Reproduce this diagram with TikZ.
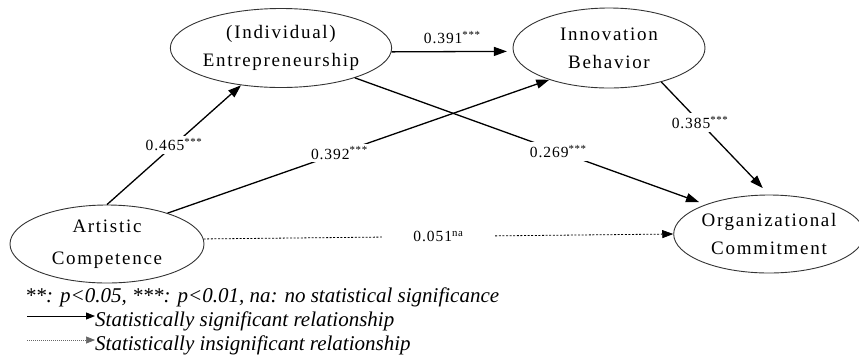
\documentclass[tikz,border=0pt]{standalone}
\usepackage{fontspec}
\setmainfont{Liberation Serif}
\newfontfamily\nodefont[LetterSpace=9]{Liberation Serif}
\newfontfamily\labfont[LetterSpace=6]{Liberation Serif}
\usetikzlibrary{shapes.geometric,arrows.meta}
\begin{document}
\begin{tikzpicture}[x=1pt,y=-1pt,
  construct/.style={ellipse, draw=black!80, line width=0.9pt, inner sep=0pt, align=center,
    font=\nodefont\fontsize{19}{28}\selectfont},
  arr/.style={line width=1.3pt, -{Triangle[length=13pt,width=9pt]}},
  insig/.style={line width=0.8pt, dash pattern=on 2pt off 1.6pt, -{Triangle[length=11pt,width=8pt]}},
  coef/.style={fill=white, inner sep=3pt, font=\labfont\fontsize{15.5}{17}\selectfont},
  legtext/.style={anchor=base west, inner sep=0pt, font=\itshape\fontsize{21}{24}\selectfont},
  legsig/.style={line width=0.9pt, -{Triangle[length=9pt,width=7pt]}},
  leginsig/.style={line width=0.7pt, black!60, dash pattern=on 1pt off 1pt, -{Triangle[length=9pt,width=7pt]}}
]
\useasboundingbox (0,0) rectangle (859,357);

\node[construct, minimum width=192pt, minimum height=79pt] (entre) at (281,48) {(Individual)\\Entrepreneurship};
\node[construct, minimum width=192pt, minimum height=80pt] (innov) at (609,48) {Innovation\\Behavior};
\node[construct, minimum width=194pt, minimum height=78pt, font=\nodefont\fontsize{19}{32}\selectfont] (art) at (107,244) {Artistic\\Competence};
\node[construct, minimum width=178pt, minimum height=78pt] (org) at (769,234) {Organizational\\Commitment};

\draw[arr] (art.north) -- node[coef, pos=0.5] {0.465\textsuperscript{***}} (entre.223);
\draw[arr] (art.27) -- node[coef, pos=0.45] {0.392\textsuperscript{***}} (innov.208);
\draw[arr, shorten >=6pt] (entre.-2) -- node[above=4pt, inner sep=3pt, font=\labfont\fontsize{15.5}{17}\selectfont, pos=0.5] {0.391\textsuperscript{***}} (innov.182);
\draw[arr, shorten >=7pt] (entre.-22) -- node[coef, pos=0.58] {0.269\textsuperscript{***}} (org.155);
\draw[arr, shorten >=9pt] (innov.-33) -- node[coef, pos=0.36] {0.385\textsuperscript{***}} (org.north);
\draw[insig] (art.3) -- node[coef, minimum width=112pt, pos=0.5] {0.051\textsuperscript{na}} (org.west);

\node[legtext] (note) at (25,302) {**: p<0.05, ***: p<0.01, na: no statistical significance};
\node[legtext] (sig) at (95,326) {Statistically significant relationship};
\node[legtext] (insignode) at (95,350) {Statistically insignificant relationship};
\coordinate (s0) at (27,316);
\coordinate (i0) at (27,340);
\draw[legsig] (s0) -- (sig.west |- s0);
\draw[leginsig] (i0) -- (insignode.west |- i0);
\end{tikzpicture}
\end{document}
